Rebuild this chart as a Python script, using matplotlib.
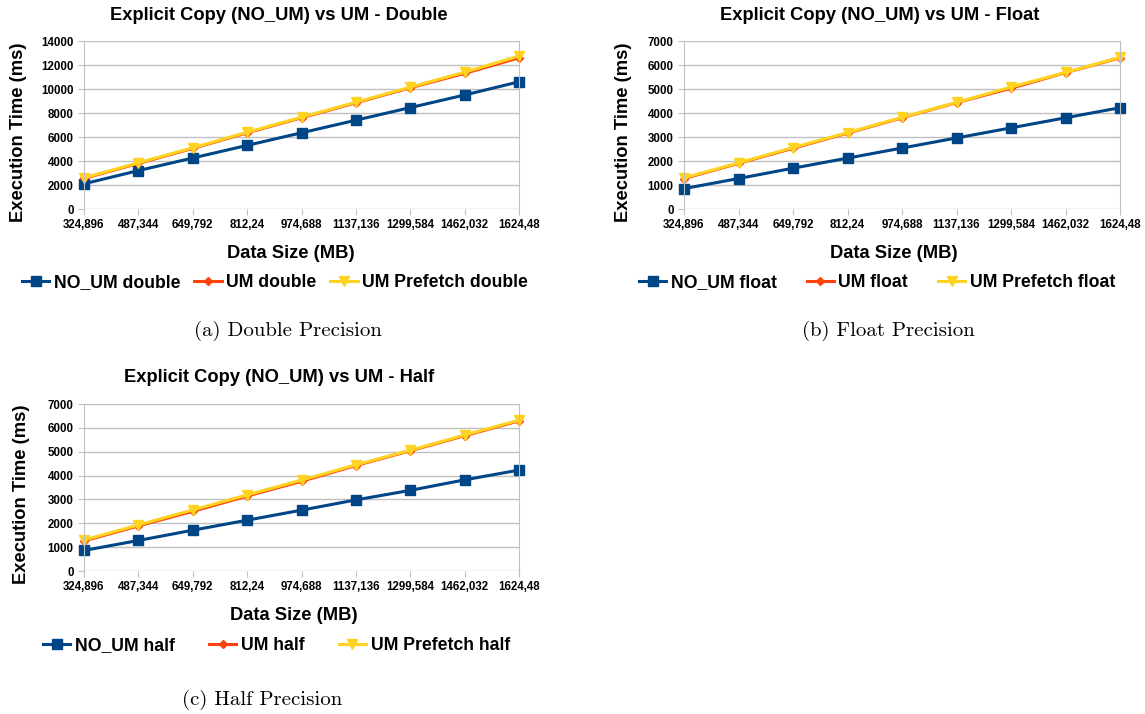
import matplotlib
matplotlib.use("Agg")
import matplotlib.pyplot as plt
import numpy as np

# data size categories (MB)
sizes = ["324,896", "487,344", "649,792", "812,24", "974,688",
         "1137,136", "1299,584", "1462,032", "1624,48"]

# execution times (ms)
no_um_double = [2100, 3200, 4250, 5300, 6350, 7400, 8450, 9500, 10600]
um_double = [2550, 3800, 5050, 6350, 7600, 8850, 10100, 11300, 12600]
um_pref_double = [2600, 3850, 5100, 6400, 7650, 8900, 10150, 11400, 12750]

no_um_float = [850, 1270, 1700, 2120, 2540, 2960, 3380, 3800, 4220]
um_float = [1270, 1900, 2530, 3160, 3800, 4430, 5030, 5680, 6300]
um_pref_float = [1300, 1920, 2560, 3180, 3820, 4440, 5080, 5690, 6320]

no_um_half = [860, 1280, 1710, 2130, 2550, 2980, 3380, 3820, 4230]
um_half = [1260, 1890, 2500, 3140, 3760, 4420, 5040, 5670, 6290]
um_pref_half = [1300, 1930, 2560, 3190, 3810, 4450, 5060, 5700, 6320]

BLUE = "#004586"
ORANGE = "#ff420e"
YELLOW = "#ffd320"
GRID = "#c0c0c0"

plt.rcParams['font.family'] = ['Liberation Sans', 'DejaVu Sans']

W, H = 1145, 714
fig = plt.figure(figsize=(W / 100, H / 100), dpi=100)


def fx(px):
    return px / W


def fy(py):
    return 1 - py / H


def px_axes(x0, y0, x1, y1):
    return fig.add_axes([fx(x0), fy(y1), (x1 - x0) / W, (y1 - y0) / H])


def draw_panel(ax, title, series, labels, ymax, ystep, pos):
    # pos: title center x/y, xlabel center x/y, ylabel center x/y, legend left x/y, col spacing
    x = np.arange(len(sizes))
    ax.plot(x, series[0], color=BLUE, lw=2.2, marker="s", ms=6.5, label=labels[0], clip_on=False)
    ax.plot(x, series[1], color=ORANGE, lw=2.2, marker="D", ms=4, label=labels[1], clip_on=False)
    ax.plot(x, series[2], color=YELLOW, lw=2.2, marker="v", ms=7.5, label=labels[2], clip_on=False)
    ax.set_xlim(0, len(sizes) - 1)
    ax.set_ylim(0, ymax)
    ax.set_yticks(np.arange(0, ymax + 1, ystep))
    ax.set_xticks(x)
    ax.set_xticklabels(sizes)
    ax.tick_params(axis="both", labelsize=8.3, length=4.5, color=GRID, pad=3)
    for lbl in ax.get_xticklabels() + ax.get_yticklabels():
        lbl.set_fontweight("bold")
    ax.grid(axis="y", color=GRID, lw=1)
    ax.grid(axis="x", visible=False)
    ax.set_axisbelow(True)
    for s in ["top", "bottom"]:
        ax.spines[s].set_visible(False)
    for s in ["left", "right"]:
        ax.spines[s].set_color(GRID)

    fig.text(fx(pos[0]), fy(pos[1]), title, fontsize=13.2, fontweight="bold",
             ha="center", va="center")
    fig.text(fx(pos[2]), fy(pos[3]), "Data Size (MB)", fontsize=13.2, fontweight="bold",
             ha="center", va="center")
    fig.text(fx(pos[4]), fy(pos[5]), "Execution Time (ms)", fontsize=13.2, fontweight="bold",
             ha="center", va="center", rotation=90)
    fig.legend(handles=ax.get_lines(), loc="center left",
               bbox_to_anchor=(fx(pos[6]), fy(pos[7])), bbox_transform=fig.transFigure,
               ncol=3, frameon=False, borderpad=0, borderaxespad=0,
               handlelength=1.55, handletextpad=0.25, columnspacing=pos[8],
               prop={"weight": "bold", "size": 12.7})


ax_a = px_axes(84, 41, 519, 209)
draw_panel(ax_a, "Explicit Copy (NO_UM) vs UM - Double",
           [no_um_double, um_double, um_pref_double],
           ["NO_UM double", "UM double", "UM Prefetch double"], 14000, 2000,
           (279, 16, 291, 253, 19, 132, 22, 283, 0.8))

ax_b = px_axes(684, 41, 1120, 209)
draw_panel(ax_b, "Explicit Copy (NO_UM) vs UM - Float",
           [no_um_float, um_float, um_pref_float],
           ["NO_UM float", "UM float", "UM Prefetch float"], 7000, 1000,
           (880, 16, 894, 253, 623, 132, 639, 283, 1.7))

ax_c = px_axes(84, 404, 519, 571)
draw_panel(ax_c, "Explicit Copy (NO_UM) vs UM - Half",
           [no_um_half, um_half, um_pref_half],
           ["NO_UM half", "UM half", "UM Prefetch half"], 7000, 1000,
           (279, 378, 294, 616, 22, 494, 43, 646, 1.95))

cap = dict(fontsize=15, family="cmr10", ha="center", va="center")
fig.text(fx(288), fy(331), "(a) Double Precision", **cap)
fig.text(fx(888), fy(331), "(b) Float Precision", **cap)
fig.text(fx(262), fy(700), "(c) Half Precision", **cap)

fig.savefig("out.png", dpi=100)
